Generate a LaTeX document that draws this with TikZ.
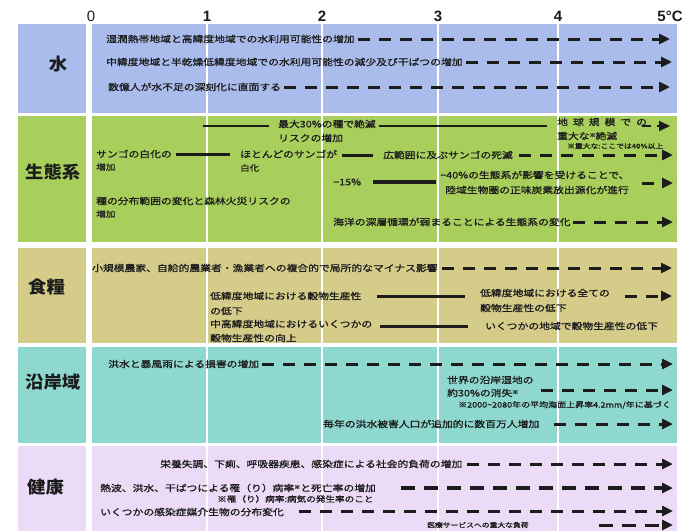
\documentclass[tikz,border=0pt]{standalone}
\usepackage{fontspec}
\usetikzlibrary{arrows.meta}
\newfontfamily\jp{Noto Sans CJK JP}[FakeStretch=1.2,FakeBold=1]
\newfontfamily\jplab{Noto Sans CJK JP}[FakeStretch=1.08]
\newfontfamily\axf{Liberation Sans}
\definecolor{cwater}{HTML}{A9BCEC}
\definecolor{ceco}{HTML}{A8CF5C}
\definecolor{cfood}{HTML}{D6CC8A}
\definecolor{ccoast}{HTML}{8FD8D0}
\definecolor{chealth}{HTML}{EBDBF6}
\definecolor{ink}{HTML}{1C1C1C}
\newcommand\kome{\raisebox{2.5pt}{\fontsize{5}{5}\selectfont ※}}
\begin{document}
\begin{tikzpicture}[x=1pt,y=-1pt,
 txt/.style={anchor=west,inner sep=0pt,font=\jp\fontsize{9}{10}\selectfont,text=ink},
 sml/.style={txt,font=\jp\fontsize{7.5}{9}\selectfont},
 sub/.style={txt,font=\jp\fontsize{8}{9}\selectfont},
 lab/.style={inner sep=0pt,font=\jplab\bfseries\fontsize{17}{18}\selectfont,text=ink},
 axl/.style={inner sep=0pt,font=\axf\bfseries\fontsize{15}{16}\selectfont,text=ink},
 darr/.style={draw=ink,line width=3pt,dash pattern=on 12pt off 9pt,-{Triangle[length=11pt,width=10pt]}},
 sline/.style={draw=ink,line width=3pt},
 tline/.style={draw=ink,line width=1.8pt}]
\useasboundingbox (0,0) rectangle (693,531);
% bands
\fill[cwater] (18,24) rectangle (86,113);
\fill[cwater] (92,24) rectangle (677,113);
\fill[ceco] (18,116) rectangle (86,242);
\fill[ceco] (92,116) rectangle (677,242);
\fill[cfood] (18,248) rectangle (86,343);
\fill[cfood] (92,248) rectangle (677,343);
\fill[ccoast] (18,347) rectangle (86,443);
\fill[ccoast] (92,347) rectangle (677,443);
\fill[chealth] (18,446) rectangle (86,531);
\fill[chealth] (92,446) rectangle (677,531);
\foreach \x in {207,322,438,558} \draw[white,line width=2pt] (\x,24) -- (\x,531);
% axis
\node[axl,font=\axf\fontsize{15}{16}\selectfont] (t0) at (91,16) {0};
\node[axl] (t1) at (207,16) {1};
\node[axl] (t2) at (322,16) {2};
\node[axl] (t3) at (438,16) {3};
\node[axl] (t4) at (558,16) {4};
\node[axl] (t5) at (670,16) {5°C};
% labels
\node[lab] (Lw) at (58,64) {水};
\node[lab,anchor=west] (Le) at (25,172) {生態系};
\node[lab,anchor=west] (Lf) at (28,287) {食糧};
\node[lab,anchor=west] (Lc) at (25,382) {沿岸域};
\node[lab,anchor=west] (Lh) at (27,487) {健康};
% water
\node[txt] (w1) at (106,39) {湿潤熱帯地域と高緯度地域での水利用可能性の増加};
\node[txt] (w2) at (106,62) {中緯度地域と半乾燥低緯度地域での水利用可能性の減少及び干ばつの増加};
\node[txt] (w3) at (108,87) {数億人が水不足の深刻化に直面する};
\coordinate (w1e) at (670,39);
\coordinate (w2e) at (672,62);
\coordinate (w3e) at (670,87);
\draw[darr] ([xshift=3pt]w1.east) -- (w1e);
\draw[darr] ([xshift=3pt]w2.east) -- (w2e);
\draw[darr] ([xshift=3pt]w3.east) -- (w3e);
% ecosystems
\node[txt] (e1) at (278,124) {最大30\%の種で絶滅};
\node[txt] (e1b) at (278,138) {リスクの増加};
\node[txt] (e2) at (557,122) {地\hspace{5pt}球\hspace{5pt}規\hspace{5pt}模\hspace{5pt}で\hspace{5pt}の};
\node[txt] (e2b) at (557,136) {重大な\kome 絶滅};
\node[sml,font=\jp\fontsize{6.5}{8}\selectfont] (e2c) at (567,146) {※重大な:ここでは40\%以上};
\coordinate (ea) at (203,126);
\coordinate (e2e) at (670,126);
\draw[tline] (ea) -- ([xshift=-9pt]e1.west |- ea);
\draw[tline] ([xshift=3pt]e1.east |- ea) -- ([xshift=-10pt]e2.west |- ea);
\draw[darr,line width=2pt,dash pattern=on 9pt off 6pt] ([xshift=-5pt]e2.east |- e2e) -- (e2e);
\node[txt] (c1) at (96,154) {サンゴの白化の};
\node[sub] (c1b) at (96,167) {増加};
\node[txt] (c2) at (240,154) {ほとんどのサンゴが};
\node[sub] (c2b) at (240,168) {白化};
\node[txt] (c3) at (383,155) {広範囲に及ぶサンゴの死滅};
\coordinate (c3e) at (673,155);
\draw[sline] ([xshift=4pt]c1.east) -- ([xshift=-10pt]c2.west);
\draw[sline] ([xshift=5pt]c2.east |- c3.west) -- ([xshift=-10pt]c3.west);
\draw[darr] ([xshift=6pt]c3.east) -- (c3e);
\node[txt] (p1) at (333,182) {−15\%};
\node[txt] (p2) at (440,175) {\textasciitilde 40\%の生態系が影響を受けることで、};
\node[txt] (p2b) at (445,190) {陸域生物圏の正味炭素放出源化が進行};
\coordinate (p2e) at (673,183);
\draw[sline,line width=4pt] ([xshift=12pt]p1.east) -- ([xshift=-4pt]p2.west |- p1.east);
\draw[darr] ([xshift=12pt]p2.east |- p2e) -- (p2e);
\node[txt] (s1) at (96,201) {種の分布範囲の変化と森林火災リスクの};
\node[sub] (s1b) at (96,214) {増加};
\node[txt] (o1) at (333,222) {海洋の深層循環が弱まることによる生態系の変化};
\coordinate (o1e) at (673,222);
\draw[darr] ([xshift=2pt]o1.east) -- (o1e);
% food
\node[txt] (f1) at (92,268) {小規模農家、自給的農業者・漁業者への複合的で局所的なマイナス影響};
\coordinate (f1e) at (672,268);
\draw[darr] ([xshift=4pt]f1.east) -- (f1e);
\node[txt] (f2) at (210,296) {低緯度地域における穀物生産性};
\node[txt] (f2b) at (210,311) {の低下};
\node[txt] (f3) at (480,293) {低緯度地域における全ての};
\node[txt] (f3b) at (480,308) {穀物生産性の低下};
\coordinate (f3e) at (672,296);
\draw[sline] ([xshift=15pt]f2.east) -- ([xshift=-15pt]f3.west |- f2.east);
\draw[darr] ([xshift=15pt]f3.east |- f3e) -- (f3e);
\node[txt] (f4) at (210,324) {中高緯度地域におけるいくつかの};
\node[txt] (f4b) at (210,338) {穀物生産性の向上};
\node[txt] (f5) at (485,326) {いくつかの地域で穀物生産性の低下};
\draw[sline] ([xshift=8pt]f4.east |- f5.west) -- ([xshift=-17pt]f5.west);
% coast
\node[txt] (k1) at (108,364) {洪水と暴風雨による損害の増加};
\coordinate (k1e) at (673,364);
\draw[darr] ([xshift=3pt]k1.east) -- (k1e);
\node[txt] (k2) at (447,380) {世界の沿岸湿地の};
\node[txt] (k2b) at (447,393) {約30\%の消失\kome};
\coordinate (k2e) at (673,390);
\draw[darr] ([xshift=7pt]k2.east |- k2e) -- (k2e);
\node[sml] (k3) at (458,405) {※2000\textasciitilde 2080年の平均海面上昇率4.2mm/年に基づく};
\node[txt] (k4) at (323,424) {毎年の洪水被害人口が追加的に数百万人増加};
\coordinate (k4e) at (673,424);
\draw[darr] ([xshift=15pt]k4.east) -- (k4e);
% health
\node[txt] (h1) at (160,464) {栄養失調、下痢、呼吸器疾患、感染症による社会的負荷の増加};
\coordinate (h1e) at (673,464);
\draw[darr] ([xshift=5pt]h1.east) -- (h1e);
\node[txt] (h2) at (100,488) {熱波、洪水、干ばつによる罹（り）病率\kome と死亡率の増加};
\coordinate (h2e) at (673,488);
\draw[darr,line width=4pt,dash pattern=on 14pt off 9pt] ([xshift=25pt]h2.east) -- (h2e);
\node[sub] (h2b) at (217,499) {※罹（り）病率:病気の発生率のこと};
\node[txt] (h3) at (100,512) {いくつかの感染症媒介生物の分布変化};
\coordinate (h3e) at (673,511);
\draw[darr] ([xshift=15pt]h3.east |- h3e) -- (h3e);
\node[txt,font=\jp\fontsize{6.5}{7.5}\selectfont] (h4) at (427,525) {医療サービスへの重大な負荷};
\coordinate (h4e) at (673,525);
\draw[darr,dash pattern=on 14pt off 9pt] ([xshift=70pt]h4.east) -- (h4e);
\end{tikzpicture}
\end{document}
